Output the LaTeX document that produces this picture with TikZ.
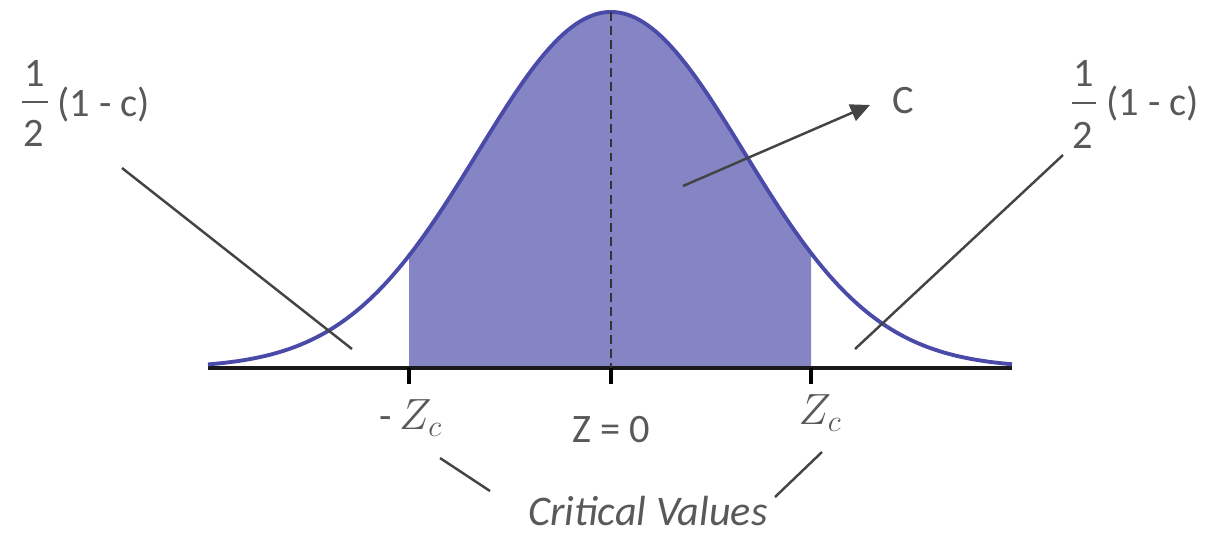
\documentclass[tikz,border=0pt]{standalone}
\usepackage{fontspec}
\setmainfont{Carlito}
\usetikzlibrary{arrows.meta}
\definecolor{bellfill}{HTML}{8585C5}
\definecolor{bellline}{HTML}{4A4AA8}
\definecolor{txt}{HTML}{595959}
\definecolor{lead}{HTML}{444444}
\begin{document}
\begin{tikzpicture}[x=0.02cm,y=-0.02cm,
  lbl/.style={text=txt,font=\fontsize{21}{25}\selectfont,inner sep=0pt},
  big/.style={lbl,font=\fontsize{23}{27}\selectfont},
  leader/.style={draw=lead,line width=1.4pt},
  fracbar/.style={draw=txt,line width=1.1pt},
  tick/.style={draw=black,line width=1.8pt},
]
\useasboundingbox (0,0) rectangle (1210,535);
% shaded central area
\fill[bellfill] (409,368) -- plot[domain=409:811,samples=120] (\x,{368-356*exp(-((\x-611)/133)^2/2)}) -- (811,368) -- cycle;
% axis
\coordinate (axL) at (208,368);
\coordinate (axR) at (1012,368);
\draw[line width=2.3pt,black!90] (axL) -- (axR);
% curve
\draw[bellline,line width=2.2pt] plot[domain=208:1012,samples=200] (\x,{368-356*exp(-((\x-611)/133)^2/2)});
% dashed centre line
\coordinate (peak) at (611,12);
\coordinate (zero) at (611,368);
\draw[black!80,line width=1pt,dash pattern=on 5pt off 3pt] (peak) -- (zero);
% ticks
\draw[tick] (409,368) -- (409,384);
\draw[tick] (611,368) -- (611,384);
\draw[tick] (811,368) -- (811,384);
% labels left fraction
\node[big] (l1) at (35,73) {1};
\draw[fracbar] (22,102) -- (48,102);
\node[big] (l2) at (34,133) {2};
\node[big,anchor=west] (lp) at (57,105) {(1 - c)};
% right fraction
\node[big] (r1) at (1084,73) {1};
\draw[fracbar] (1072,103) -- (1096,103);
\node[big] (r2) at (1083,135) {2};
\node[big,anchor=west] (rp) at (1106,104) {(1 - c)};
% C label
\node[big] (cl) at (903,101) {C};
% axis labels
\node[big] (mz) at (411,418) {-\,$Z_c$};
\node[big] (z0) at (611,430) {Z = 0};
\node[big] (pz) at (820,413) {$Z_c$};
\node[lbl,font=\itshape\fontsize{24}{28}\selectfont] (cv) at (648,511) {Critical Values};
% leaders
\coordinate (la) at (122,168);
\coordinate (lb) at (352,349);
\draw[leader] (la) -- (lb);
\coordinate (ra) at (1063,155);
\coordinate (rb) at (855,349);
\draw[leader] (ra) -- (rb);
\coordinate (ca) at (683,186);
\coordinate (cb) at (870,105);
\draw[leader,-{Triangle[length=11pt,width=10pt]}] (ca) -- (cb);
\coordinate (cva) at (440,458);
\coordinate (cvb) at (490,491);
\draw[leader] (cva) -- (cvb);
\coordinate (cvc) at (822,452);
\coordinate (cvd) at (775,497);
\draw[leader] (cvc) -- (cvd);
\end{tikzpicture}
\end{document}
